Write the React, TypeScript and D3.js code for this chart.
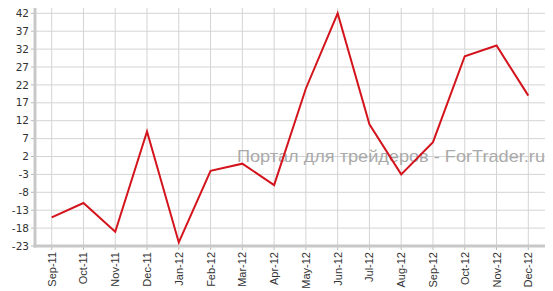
import React from "react";
import * as d3 from "d3";

const categories = ["Sep-11","Oct-11","Nov-11","Dec-11","Jan-12","Feb-12","Mar-12","Apr-12","May-12","Jun-12","Jul-12","Aug-12","Sep-12","Oct-12","Nov-12","Dec-12"];
const values = [-15,-11,-19,9,-22,-2,0,-6,21,42,11,-3,6,30,33,19];
const yTicks = [42,37,32,27,22,17,12,7,2,-3,-8,-13,-18,-23];
const watermark = "Портал для трейдеров - ForTrader.ru";

export default function App() {
  const W = 553, H = 291;
  const left = 35, right = 545, top = 8, bottom = 246;
  const x = d3.scalePoint<string>().domain(categories).range([51.7, 528.3]);
  const y = d3.scaleLinear().domain([-23, 42]).range([bottom, 13.3]);
  const line = d3.line<number>().x((_, i) => x(categories[i])!).y(d => y(d));
  return (
    <svg width={W} height={H} style={{ position: "absolute", left: 0, top: 0 }}>
      <rect width={W} height={H} fill="#fff" />
      {yTicks.map(t => (
        <g key={t}>
          <line x1={left} x2={right} y1={y(t)} y2={y(t)} stroke="#d4d4d4" strokeWidth={1} />
          <line x1={31} x2={left} y1={y(t)} y2={y(t)} stroke="#bbb" />
          <text x={29} y={y(t)} dy="0.35em" textAnchor="end" fontFamily="DejaVu Sans, Verdana" fontSize={10.5} fill="#333">{t}</text>
        </g>
      ))}
      {categories.map(c => (
        <g key={c}>
          <line x1={x(c)} x2={x(c)} y1={top} y2={bottom} stroke="#d4d4d4" />
          <line x1={x(c)} x2={x(c)} y1={bottom} y2={bottom + 4} stroke="#bbb" />
          <text transform={`translate(${x(c)! + 4},${bottom + 6}) rotate(-90)`} textAnchor="end" fontFamily="Liberation Sans, Arial" fontSize={11} fill="#333">{c}</text>
        </g>
      ))}
      <line x1={left} x2={left} y1={top} y2={bottom + 1.5} stroke="#c8c8c8" strokeWidth={3} />
      <line x1={left - 1.5} x2={right} y1={bottom} y2={bottom} stroke="#c8c8c8" strokeWidth={3} />
      <text x={237} y={162} fontFamily="Liberation Sans, Arial" fontSize={17} fill="#aaa" textLength={308} lengthAdjust="spacingAndGlyphs">{watermark}</text>
      <path d={line(values)!} fill="none" stroke="#d4141c" strokeWidth={2} strokeLinejoin="miter" />
    </svg>
  );
}
